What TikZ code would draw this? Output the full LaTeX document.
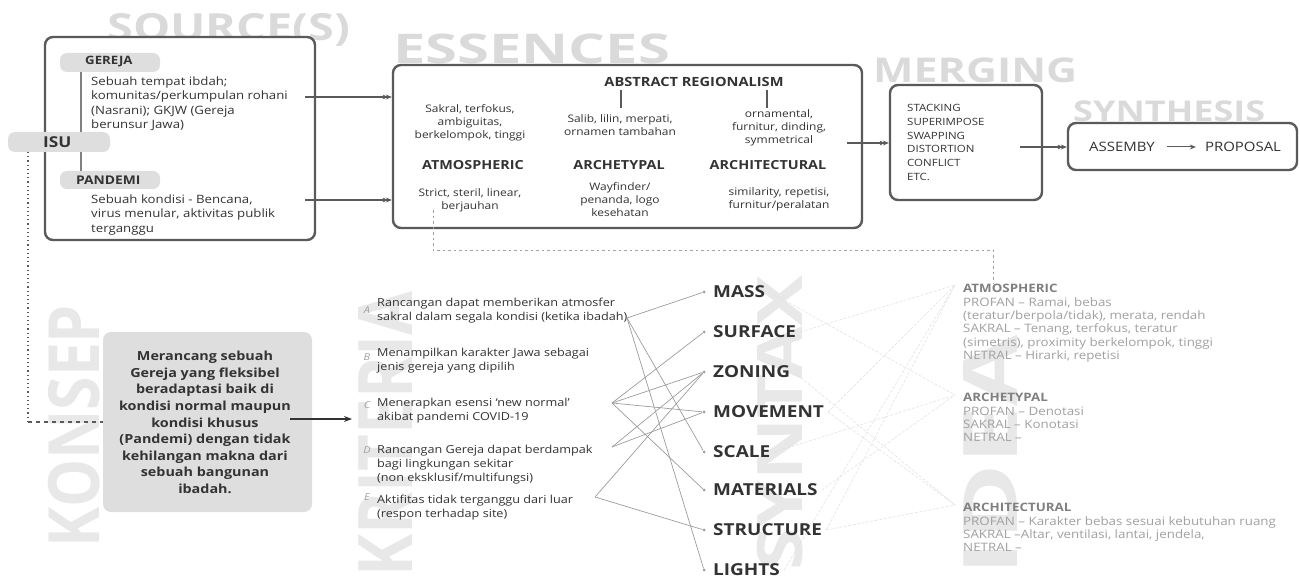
\documentclass[tikz,border=0pt]{standalone}
\usepackage{fontspec}
\setmainfont{Open Sans}[FakeStretch=1.15]
\usetikzlibrary{arrows.meta, positioning}

\definecolor{boxline}{HTML}{5A5A5A}
\definecolor{pillgray}{HTML}{DEDEDE}
\definecolor{inkgray}{HTML}{333333}
\definecolor{markgray}{HTML}{DADADA}
\definecolor{faintmark}{HTML}{E8E8E8}
\definecolor{paleink}{HTML}{A0A0A0}
\definecolor{linkgray}{HTML}{9C9C9C}
\definecolor{ghostgray}{HTML}{E2E2E2}

\newcommand{\bigmark}[3]{\resizebox*{#1pt}{#2pt}{\bfseries #3}}

\begin{document}
\begin{tikzpicture}[
    x=1pt, y=-1pt,
    >=Stealth,
    frame/.style={draw=boxline, line width=2.4pt, rounded corners=8pt, fill=white},
    pill/.style={fill=pillgray, rounded corners=7pt, inner sep=0pt},
    watermark/.style={text=markgray, inner sep=0pt},
    vmark/.style={text=faintmark, inner sep=0pt, rotate=90},
    body/.style={align=left, anchor=north west, inner sep=0pt, text=inkgray,
        font=\fontsize{11.5}{14.3}\selectfont},
    colnote/.style={align=center, anchor=north, inner sep=0pt, text=inkgray,
        font=\fontsize{10.4}{13}\selectfont},
    colhead/.style={inner sep=0pt, text=inkgray, font=\fontsize{12.5}{14}\selectfont\bfseries},
    tag/.style={anchor=west, inner sep=0pt, text=inkgray, font=\bfseries},
    flow/.style={draw=boxline, line width=1.3pt, -{Circle[length=4pt] Stealth[length=6pt, width=5pt]}},
    crit/.style={align=left, anchor=north west, inner sep=0pt, text=inkgray,
        font=\fontsize{11}{14}\selectfont},
    critkey/.style={inner sep=0pt, text=paleink, font=\fontsize{9.5}{10}\selectfont\itshape},
    element/.style={anchor=west, inner sep=0pt, text=inkgray, font=\fontsize{16.5}{18}\selectfont\bfseries},
    dot/.style={circle, fill=linkgray, inner sep=0pt, minimum size=3pt},
    link/.style={draw=linkgray, line width=0.7pt},
    ghostlink/.style={draw=ghostgray, line width=0.6pt, dash pattern=on 3pt off 1.5pt},
    idea/.style={align=left, anchor=north west, inner sep=0pt, text=paleink,
        font=\fontsize{11.6}{13.4}\selectfont}
]
\useasboundingbox (0,0) rectangle (1300,580);

%-------------------------------------------------
% Background titles
%-------------------------------------------------
\node[watermark, anchor=north west] (tSource)    at (107,13)  {\bigmark{243}{33}{SOURCE(S)}};
\node[watermark, anchor=north west] (tEssence)   at (393,34)  {\bigmark{277}{30}{ESSENCES}};
\node[watermark, anchor=north west] (tMerging)   at (873,58)  {\bigmark{204}{25}{MERGING}};
\node[watermark, anchor=north west] (tSynthesis) at (1073,101) {\bigmark{192}{21}{SYNTHESIS}};

\node[vmark] (tKonsep)   at (74,426)  {\bigmark{242}{52}{KONSEP}};
\node[vmark] (tKriteria) at (385,434) {\bigmark{285}{54}{KRITERIA}};
\node[vmark] (tSyntax)   at (780,423) {\bigmark{295}{46}{SYNTAX}};
\node[vmark] (tIdea)     at (990,455) {\bigmark{240}{54}{IDEA}};

%-------------------------------------------------
% Source(s)
%-------------------------------------------------
\node[frame, minimum width=270, minimum height=203] (src) at (180,138.5) {};

\node[pill, minimum width=100, minimum height=19] (gerejaPill)  at (110,62.5) {};
\node[pill, minimum width=102, minimum height=20] (isuPill)     at (59,142)   {};
\node[pill, minimum width=100, minimum height=18] (pandemiPill) at (110,180)  {};

\draw[draw=gray, line width=1.2pt] (81,72) -- (81,132);
\draw[draw=gray, line width=1.2pt] (81,152) -- (81,171);

\node[tag, font=\fontsize{11.5}{13}\selectfont\bfseries] (gereja)  at (85,62)  {GEREJA};
\node[tag, font=\fontsize{15}{17}\selectfont\bfseries]   (isu)     at (43,142) {ISU};
\node[tag, font=\fontsize{12}{14}\selectfont\bfseries]   (pandemi) at (76,180) {PANDEMI};

\node[body] (gerejaText) at (91,76.5) {Sebuah tempat ibdah;\\ komunitas/perkumpulan rohani\\ (Nasrani); GKJW (Gereja\\ berunsur Jawa)};
\node[body] (pandemiText) at (91,194.5) {Sebuah kondisi - Bencana,\\ virus menular, aktivitas publik\\ terganggu};

%-------------------------------------------------
% Essences
%-------------------------------------------------
\node[frame, minimum width=469, minimum height=163] (ess) at (627.5,146.5) {};

\node[colhead, font=\fontsize{12.7}{14}\selectfont\bfseries] (abstract) at (694,82) {ABSTRACT REGIONALISM};
\draw[draw=boxline, line width=1.5pt] (621,90) -- (621,108);
\draw[draw=boxline, line width=1.5pt] (767,90) -- (767,108);

\node[colnote] (atmoTop) at (470,104) {Sakral, terfokus,\\ ambiguitas,\\ berkelompok, tinggi};
\node[colnote] (archeTop) at (620,114) {Salib, lilin, merpati,\\ ornamen tambahan};
\node[colnote] (archiTop) at (779,109) {ornamental,\\ furnitur, dinding,\\ symmetrical};

\node[colhead] (atmoHead)  at (473,165) {ATMOSPHERIC};
\node[colhead] (archeHead) at (619,165) {ARCHETYPAL};
\node[colhead] (archiHead) at (768,165) {ARCHITECTURAL};

\node[colnote] (atmoLow)  at (470,188) {Strict, steril, linear,\\ berjauhan};
\node[colnote] (archeLow) at (620,182) {Wayfinder/\\ penanda, logo\\ kesehatan};
\node[colnote] (archiLow) at (779,187) {similarity, repetisi,\\ furnitur/peralatan};

%-------------------------------------------------
% Merging & Synthesis
%-------------------------------------------------
\node[frame, minimum width=152, minimum height=115] (merge) at (966,142.5) {};
\node[align=left, anchor=north west, inner sep=0pt, text=inkgray, font=\fontsize{10}{13.7}\selectfont] (mergeList) at (907,104.4)
    {STACKING\\ SUPERIMPOSE\\ SWAPPING\\ DISTORTION\\ CONFLICT\\ ETC.};

\node[frame, minimum width=229, minimum height=47] (synth) at (1182.5,146.5) {};
\node[inner sep=0pt, text=inkgray, font=\fontsize{13}{15}\selectfont] (assembly) at (1122,147) {ASSEMBY};
\node[inner sep=0pt, text=inkgray, font=\fontsize{13}{15}\selectfont] (proposal) at (1243,147) {PROPOSAL};
\draw[draw=boxline, line width=1pt, -{Stealth[length=6pt, width=5pt]}] ([xshift=12pt]assembly.east) -- ([xshift=-9pt]proposal.west);

%-------------------------------------------------
% Flow arrows
%-------------------------------------------------
\coordinate (gerejaOut)  at (305,97);
\coordinate (pandemiOut) at (305,200);
\coordinate (essOut)     at (847,143);
\coordinate (mergeOut)   at (1020,147);

\draw[flow] (gerejaOut)  -- (gerejaOut -| ess.west);
\draw[flow] (pandemiOut) -- (pandemiOut -| ess.west);
\draw[flow] (essOut)     -- (essOut -| merge.west);
\draw[flow] (mergeOut)   -- (mergeOut -| synth.west);

%-------------------------------------------------
% Konsep
%-------------------------------------------------
\node[fill=pillgray, rounded corners=8pt, minimum width=209, minimum height=180] (konsep) at (207.5,422) {};
\node[align=center, anchor=north, inner sep=0pt, text=inkgray, font=\fontsize{12.5}{16.6}\selectfont\bfseries] (konsepText) at (205,351)
    {Merancang sebuah\\ Gereja yang fleksibel\\ beradaptasi baik di\\ kondisi normal maupun\\ kondisi khusus\\ (Pandemi) dengan tidak\\ kehilangan makna dari\\ sebuah bangunan\\ ibadah.};

\coordinate (isuFoot)    at (28,152);
\coordinate (konsepTurn) at (28,422);
\draw[draw=boxline, line width=1.2pt, dash pattern=on 1.2pt off 3pt] (isuFoot) -- (konsepTurn);
\draw[draw=boxline, line width=1.2pt, dash pattern=on 4pt off 4pt] (konsepTurn) -- (konsepTurn -| konsep.west);

\coordinate (konsepOut) at (290,419);
\coordinate (kritIn)    at (352,419);
\draw[draw=inkgray, line width=1.3pt, -{Stealth[length=8pt, width=6pt]}] (konsepOut) -- (kritIn);

%-------------------------------------------------
% Kriteria
%-------------------------------------------------
\node[critkey] (keyA) at (367,310) {A};
\node[critkey] (keyB) at (367,357) {B};
\node[critkey] (keyC) at (367,405) {C};
\node[critkey] (keyD) at (367,450) {D};
\node[critkey] (keyE) at (367,497) {E};

\node[crit] (critA) at (377,297.5) {Rancangan dapat memberikan atmosfer\\ sakral dalam segala kondisi (ketika ibadah)};
\node[crit] (critB) at (377,347.5) {Menampilkan karakter Jawa sebagai\\ jenis gereja yang dipilih};
\node[crit] (critC) at (377,397.5) {Menerapkan esensi ‘new normal’\\ akibat pandemi COVID-19};
\node[crit] (critD) at (377,444.5) {Rancangan Gereja dapat berdampak\\ bagi lingkungan sekitar\\ (non eksklusif/multifungsi)};
\node[crit] (critE) at (377,494.5) {Aktifitas tidak terganggu dari luar\\ (respon terhadap site)};

%-------------------------------------------------
% Syntax elements
%-------------------------------------------------
\foreach \name/\word/\y in {mass/MASS/292, surface/SURFACE/332, zoning/ZONING/372,
        movement/MOVEMENT/412, scale/SCALE/452, materials/MATERIALS/490,
        structure/STRUCTURE/530, lights/LIGHTS/570}{
    \node[dot] (\name Dot) at (704,\y) {};
    \node[element] (\name) at (713,\y) {\word};
}

\coordinate (cA) at (627,318);
\coordinate (cC) at (612,403);
\coordinate (cD) at (612,447);
\coordinate (cE) at (595,497);

\foreach \from/\to in {cA/mass, cA/scale, cA/lights,
        cC/surface, cC/zoning, cC/movement, cC/materials,
        cD/zoning, cD/movement, cE/zoning, cE/structure}
    \draw[link] (\from) -- (\to Dot);

%-------------------------------------------------
% Idea
%-------------------------------------------------
\node[idea] (ideaAtmo) at (963,284)
    {\textbf{\color{gray}ATMOSPHERIC}\\ PROFAN – Ramai, bebas\\ (teratur/berpola/tidak), merata, rendah\\ SAKRAL – Tenang, terfokus, teratur\\ (simetris), proximity berkelompok, tinggi\\ NETRAL – Hirarki, repetisi};
\node[idea] (ideaArche) at (963,393)
    {\textbf{\color{gray}ARCHETYPAL}\\ PROFAN – Denotasi\\ SAKRAL – Konotasi\\ NETRAL –};
\node[idea] (ideaArchi) at (963,503)
    {\textbf{\color{gray}ARCHITECTURAL}\\ PROFAN – Karakter bebas sesuai kebutuhan ruang\\ SAKRAL –Altar, ventilasi, lantai, jendela,\\ NETRAL –};

\coordinate (gAtmo)  at (955,285);
\coordinate (gArche) at (955,395);
\coordinate (gArchi) at (955,505);

\foreach \from/\to in {surface/gAtmo, movement/gAtmo, structure/gAtmo, lights/gAtmo,
        mass/gArche, scale/gArche, materials/gArche,
        zoning/gArchi, movement/gArchi, structure/gArchi}
    \draw[ghostlink] (\from.east) ++(4,0) -- (\to);

\coordinate (essDrop) at (433,210);
\coordinate (ideaTop) at (993,283);
\draw[draw=paleink, line width=0.9pt, dash pattern=on 2.5pt off 3pt] (essDrop) |- (ideaTop |- 0,250) -- (ideaTop);

\end{tikzpicture}
\end{document}
